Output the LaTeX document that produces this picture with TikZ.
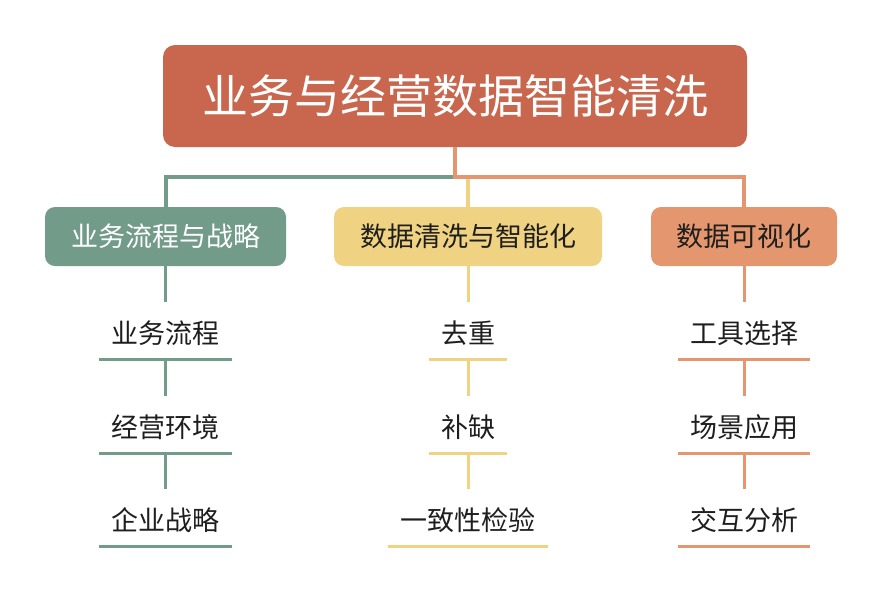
\documentclass[tikz,border=0pt]{standalone}
\usepackage{fontspec}
\newfontfamily\cjk{Noto Sans CJK SC}
\definecolor{rootred}{HTML}{C8664E}
\definecolor{sage}{HTML}{729B8A}
\definecolor{sand}{HTML}{F0D382}
\definecolor{peach}{HTML}{E4976F}
\definecolor{ink}{HTML}{1E1E1E}
\tikzset{
 topbox/.style={fill=rootred, rounded corners=12pt, minimum width=584pt, minimum height=102pt, inner sep=0pt, text=white, font=\cjk\fontsize{46}{50}\selectfont},
 midbox/.style={rounded corners=10pt, minimum height=59pt, inner sep=0pt, font=\cjk\fontsize{27}{30}\selectfont},
 leaf/.style={anchor=base, inner xsep=12pt, inner ysep=0pt, text height=41pt, text depth=16pt, text=ink, font=\cjk\fontsize{27}{30}\selectfont},
 trunk/.style={line width=4pt},
 twig/.style={line width=3pt}
}
\begin{document}
\begin{tikzpicture}[x=1pt, y=-1pt]
 \useasboundingbox (0,0) rectangle (883,606);
 \node[topbox] (root) at (455,96) {业务与经营数据智能清洗};
 \node[midbox, fill=sage, text=white, minimum width=241pt] (biz) at (165.5,236.5) {业务流程与战略};
 \node[midbox, fill=sand, text=ink, minimum width=268pt] (clean) at (468,236.5) {数据清洗与智能化};
 \node[midbox, fill=peach, text=ink, minimum width=186pt] (vis) at (744,236.5) {数据可视化};
 \coordinate (fork) at (455,177);
 \draw[trunk, sage] (fork) -| (biz.north);
 \draw[trunk, sand] (clean.north |- fork) -- (clean.north);
 \draw[trunk, peach] (root.south) -- (fork) -| (vis.north);
 \foreach \col/\x/\clr/\a/\b/\c in {biz/165.5/sage/业务流程/经营环境/企业战略, clean/468/sand/去重/补缺/一致性检验, vis/744/peach/工具选择/场景应用/交互分析}{
  \node[leaf] (\col1) at (\x,343) {\a};
  \node[leaf] (\col2) at (\x,437) {\b};
  \node[leaf] (\col3) at (\x,530) {\c};
  \draw[twig, \clr] (\col.south) -- (\col1.north);
  \draw[twig, \clr] (\col1.south) -- (\col2.north);
  \draw[twig, \clr] (\col2.south) -- (\col3.north);
  \draw[twig, \clr] (\col1.south west) -- (\col1.south east);
  \draw[twig, \clr] (\col2.south west) -- (\col2.south east);
  \draw[twig, \clr] (\col3.south west) -- (\col3.south east);
 }
\end{tikzpicture}
\end{document}
